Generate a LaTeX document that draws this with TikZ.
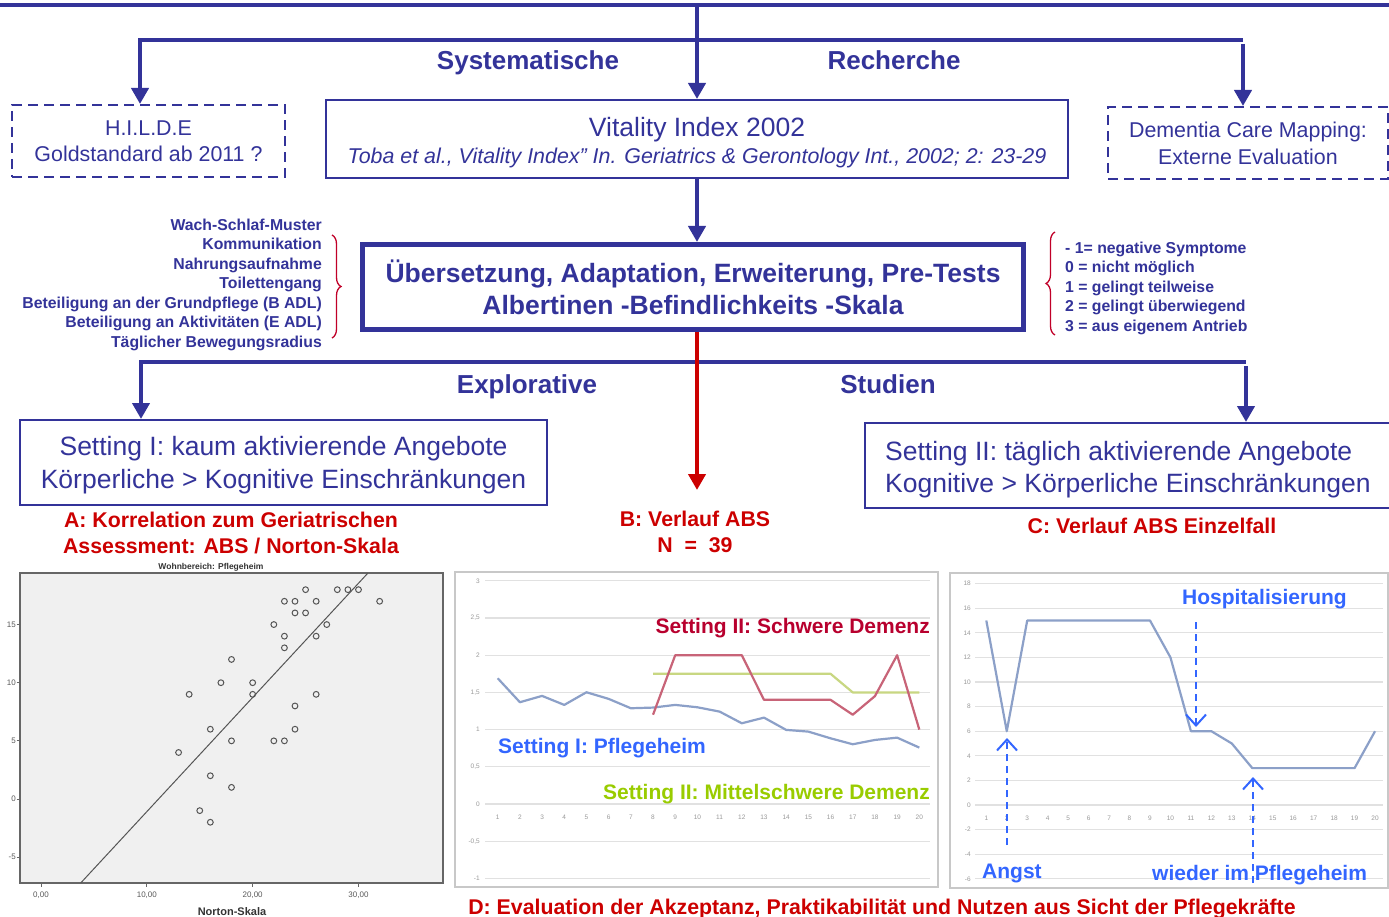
\documentclass[tikz,border=0pt]{standalone}
\usepackage{fontspec}
\setmainfont{Liberation Sans}
\usetikzlibrary{arrows.meta,decorations.pathreplacing}
\definecolor{navy}{RGB}{51,51,153}
\definecolor{dred}{RGB}{204,0,0}
\definecolor{bred}{RGB}{192,0,40}
\definecolor{cred}{RGB}{184,0,46}
\definecolor{lblue}{RGB}{51,102,255}
\definecolor{lgreen}{RGB}{153,204,0}
\definecolor{serblue}{RGB}{140,160,200}
\definecolor{serred}{RGB}{200,100,120}
\definecolor{sergreen}{RGB}{200,215,130}
\definecolor{gridc}{RGB}{225,225,225}
\definecolor{framec}{RGB}{200,200,200}
\definecolor{scat}{RGB}{85,85,85}
\begin{document}
\begin{tikzpicture}[x=1pt,y=-1pt,
 conn/.style={draw=navy,line width=4.5pt},
 arr/.style={-{Triangle[width=17pt,length=16pt]}},
 dashbox/.style={draw=navy,line width=2pt,dash pattern=on 10pt off 6pt,text=navy,align=center,text depth=0pt,font=\fontsize{21.4}{26.5}\selectfont},
 plainbox/.style={draw=navy,line width=2pt,text=navy},
 headtxt/.style={text=navy,text depth=0pt,font=\bfseries\fontsize{26}{30}\selectfont},
 listtxt/.style={text=navy,font=\bfseries\fontsize{15.8}{19.5}\selectfont,inner sep=0pt},
 brc/.style={draw=bred,line width=1.3pt,decorate,decoration={brace,amplitude=9pt}},
 redlbl/.style={text=dred,text depth=0pt,font=\bfseries\fontsize{21.3}{25.5}\selectfont,align=center},
 ticklbl/.style={text=black!40,font=\fontsize{6.5}{7}\selectfont,inner sep=0pt},
 scticklbl/.style={text=black!65,font=\fontsize{8}{9}\selectfont,inner sep=0pt},
 gridln/.style={draw=gridc,line width=1.3pt},
 chartframe/.style={draw=framec,line width=1.5pt,fill=white},
 serln/.style={line width=2.2pt,line join=round},
 chartlbl/.style={font=\bfseries\fontsize{21}{25}\selectfont,text depth=0pt,inner sep=0pt},
 annarrow/.style={draw=lblue,line width=2pt,dash pattern=on 7pt off 5pt,-{Straight Barb[width=20pt,length=11pt]}},
]
\useasboundingbox (0,0) rectangle (1389,917);

% ---------- top level boxes ----------
\node[dashbox,minimum width=273pt,minimum height=72pt] (hilde) at (148.5,141) {H.I.L.D.E\\Goldstandard ab 2011 ?};
\node[plainbox,minimum width=742pt,minimum height=78pt] (vit) at (697,139) {};
\node[text=navy,text depth=0pt,font=\fontsize{26.5}{30}\selectfont] (vitT) at (697,127) {Vitality Index 2002};
\node[text=navy,text depth=0pt,font=\itshape\fontsize{21.4}{24}\selectfont] (vitR) at (697,156) {Toba et al., Vitality Index” In. Geriatrics \& Gerontology Int., 2002; 2: 23-29};
\node[dashbox,minimum width=280pt,minimum height=72pt] (dem) at (1248,143) {Dementia Care Mapping:\\Externe Evaluation};

\node[headtxt] (sys) at (528,60) {Systematische};
\node[headtxt] (rech) at (894,60) {Recherche};

% ---------- top connectors ----------
\coordinate (topL) at (0,5);
\coordinate (topR) at (1389,5);
\coordinate (topM) at (697,5);
\coordinate (b1L) at (140,40);
\coordinate (b1R) at (1243,40);
\draw[conn] (topL) -- (topR);
\draw[conn,arr] (topM) -- (vit.north);
\draw[conn,arr] (b1R) -- (b1L) -- (b1L |- hilde.north);
\draw[conn,arr] ([yshift=-4pt]b1R) -- (b1R |- dem.north);

% ---------- ABS box ----------
\node[draw=navy,line width=5pt,minimum width=661pt,minimum height=85pt,align=center,text=navy,font=\bfseries\fontsize{26.5}{32}\selectfont] (abs) at (693,287) {Übersetzung, Adaptation, Erweiterung, Pre-Tests\\Albertinen -Befindlichkeits -Skala};
\draw[conn,arr] (vit.south -| topM) -- (topM |- abs.north);

\node[listtxt,align=right,anchor=east] (crit) at (322,284.5) {Wach-Schlaf-Muster\\Kommunikation\\Nahrungsaufnahme\\Toilettengang\\Beteiligung an der Grundpflege (B ADL)\\Beteiligung an Aktivitäten (E ADL)\\Täglicher Bewegungsradius};
\node[listtxt,align=left,anchor=west] (scl) at (1065,288) {- 1= negative Symptome\\0 = nicht möglich\\1 = gelingt teilweise\\2 = gelingt überwiegend\\3 = aus eigenem Antrieb};
\coordinate (brL1) at (332,235);
\coordinate (brL2) at (332,338);
\coordinate (brR1) at (1055,335);
\coordinate (brR2) at (1055,232);
\draw[brc] (brL1) -- (brL2);
\draw[brc] (brR1) -- (brR2);

% ---------- second level ----------
\node[headtxt] (expl) at (527,384) {Explorative};
\node[headtxt] (stud) at (888,384) {Studien};
\node[plainbox,minimum width=527pt,minimum height=85pt,align=center,text depth=0pt,font=\fontsize{26.5}{32.5}\selectfont] (set1) at (283.5,462.5) {Setting I: kaum aktivierende Angebote\\Körperliche > Kognitive Einschränkungen};
\node[plainbox,anchor=west,minimum width=540pt,minimum height=85pt] (set2) at (864,465.5) {};
\node[text=navy,anchor=west,align=left,inner sep=0pt,text depth=0pt,font=\fontsize{26.5}{32.5}\selectfont] (set2T) at (885,467) {Setting II: täglich aktivierende Angebote\\Kognitive > Körperliche Einschränkungen};

\coordinate (b2L) at (141,362);
\coordinate (b2R) at (1246,362);
\coordinate (redEnd) at (697,490);
\draw[conn,arr] (b2R) -- (b2L) -- (b2L |- set1.north);
\draw[conn,arr] ([yshift=-4pt]b2R) -- (b2R |- set2.north);
\draw[draw=dred,line width=4.5pt,arr] (redEnd |- abs.south) -- (redEnd);

% ---------- red labels ----------
\node[redlbl] (labA) at (231,533) {A: Korrelation zum Geriatrischen\\Assessment: ABS / Norton-Skala};
\node[redlbl] (labB) at (695,532) {B: Verlauf ABS\\N\ \ =\ \ 39};
\node[redlbl] (labC) at (1152,526) {C: Verlauf ABS Einzelfall};
\node[redlbl] (labD) at (882,907) {D: Evaluation der Akzeptanz, Praktikabilität und Nutzen aus Sicht der Pflegekräfte};

% ---------- panel A: scatter ----------
\node[font=\bfseries\fontsize{8.5}{9}\selectfont,text=black!80,inner sep=0pt] (scTitle) at (211,567) {Wohnbereich: Pflegeheim};
\draw[draw=black!60,fill=black!6,line width=1.3pt] (20,573) rectangle (443,883);
\foreach \v in {15,10,5,0,-5} {
  \draw[black!60,line width=1pt] (16.5,{799-11.63*\v}) -- (20,{799-11.63*\v});
  \node[scticklbl,anchor=east] at (16,{799-11.63*\v}) {\v};
}
\foreach \v/\l in {0/{0,00},10/{10,00},20/{20,00},30/{30,00}} {
  \draw[black!60,line width=1pt] ({41+10.583*\v},883) -- ({41+10.583*\v},887);
  \node[scticklbl] at ({41+10.583*\v},895) {\l};
}
\node[font=\bfseries\fontsize{11}{12}\selectfont,text=black!80,inner sep=0pt] (scX) at (232,912) {Norton-Skala};
\foreach \a/\b in {25/18,28/18,29/18,30/18,23/17,24/17,26/17,32/17,24/16,25/16,22/15,27/15,23/14,26/14,23/13,18/12,17/10,20/10,14/9,20/9,26/9,24/8,16/6,24/6,18/5,22/5,23/5,13/4,16/2,18/1,15/-1,16/-2}
  \draw[scat,line width=1pt] ({41+10.583*\a},{799-11.63*\b}) circle (2.9pt);
\draw[scat,line width=1pt] (80.7,883) -- (367.7,573.3);

% ---------- panel B: line chart ----------
\draw[chartframe] (455,572) rectangle (938,887);
\begin{scope}[shift={(497.7,804)},x=22.19pt,y=74.4pt]
  \foreach \v/\l in {3/3,2.5/{2,5},2/2,1.5/{1,5},1/1,0.5/{0,5},0/0,-0.5/{-0,5},-1/-1} {
    \draw[gridln] (-0.57,\v) -- (19.5,\v);
    \node[ticklbl,anchor=east] at (-0.8,\v) {\l};
  }
  \foreach \i in {1,...,20} \node[ticklbl] at (\i-1,-0.175) {\i};
  \draw[serln,serblue] (0,1.69) -- (1,1.368) -- (2,1.453) -- (3,1.332) -- (4,1.502) -- (5,1.413) -- (6,1.287) -- (7,1.296) -- (8,1.332) -- (9,1.30) -- (10,1.242) -- (11,1.085) -- (12,1.161) -- (13,0.996) -- (14,0.973) -- (15,0.883) -- (16,0.803) -- (17,0.861) -- (18,0.892) -- (19,0.758);
  \draw[serln,sergreen] (7,1.75) -- (15,1.75) -- (16,1.5) -- (19,1.5);
  \draw[serln,serred] (7,1.2) -- (8,2) -- (11,2) -- (12,1.4) -- (15,1.4) -- (16,1.2) -- (17,1.45) -- (18,2) -- (19,1.0);
\end{scope}
\node[chartlbl,text=cred,anchor=east] (lbS) at (930,626) {Setting II: Schwere Demenz};
\node[chartlbl,text=lblue,anchor=west] (lbP) at (498,746) {Setting I: Pflegeheim};
\node[chartlbl,text=lgreen,anchor=east] (lbM) at (930,792) {Setting II: Mittelschwere Demenz};

% ---------- panel C: single case ----------
\draw[chartframe] (950,573) rectangle (1388,888);
\begin{scope}[shift={(986.3,805)},x=20.46pt,y=12.3pt]
  \foreach \v in {18,16,...,-6} {
    \draw[gridln] (-0.55,\v) -- (19.39,\v);
    \node[ticklbl,anchor=east] at (-0.75,\v) {\v};
  }
  \foreach \i in {1,...,20} \node[ticklbl] at (\i-1,-1.06) {\i};
  \draw[serln,serblue] (0,15) -- (1,6) -- (2,15) -- (8,15) -- (9,12) -- (10,6) -- (11,6) -- (12,5) -- (13,3) -- (18,3) -- (19,6);
\end{scope}
\node[chartlbl,text=lblue,anchor=west] (hosp) at (1182,597) {Hospitalisierung};
\node[chartlbl,text=lblue,anchor=west] (angst) at (982,871) {Angst};
\node[chartlbl,text=lblue,anchor=west] (wied) at (1152,873) {wieder im Pflegeheim};
\coordinate (hospS) at (1196,622);
\coordinate (hospT) at (1196,727);
\coordinate (angS) at (1007,845);
\coordinate (angT) at (1007,738);
\coordinate (wiS) at (1253,883);
\coordinate (wiT) at (1253,777);
\draw[annarrow] (hospS) -- (hospT);
\draw[annarrow] (angS) -- (angT);
\draw[annarrow] (wiS) -- (wiT);
\end{tikzpicture}
\end{document}
